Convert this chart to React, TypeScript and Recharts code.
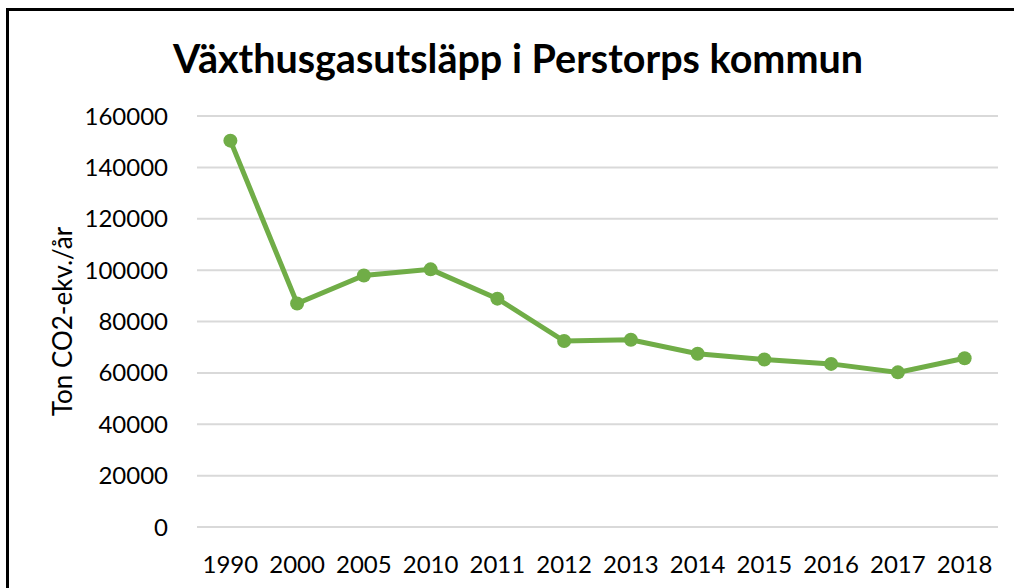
import { CartesianGrid, Line, LineChart, XAxis, YAxis } from "recharts";

const years = ["1990", "2000", "2005", "2010", "2011", "2012", "2013", "2014", "2015", "2016", "2017", "2018"];
const emissions = [150400, 87000, 97900, 100300, 88900, 72400, 72900, 67450, 65200, 63500, 60200, 65700];
const yTicks = [0, 20000, 40000, 60000, 80000, 100000, 120000, 140000, 160000];

const data = years.map((year, i) => ({ year, value: emissions[i] }));

const font = "Lato, Carlito, Calibri, sans-serif";

function YLabel({ viewBox }: any) {
  const cx = 62;
  const cy = viewBox.y + viewBox.height / 2;
  return (
    <text
      x={cx}
      y={cy}
      transform={`rotate(-90 ${cx} ${cy})`}
      textAnchor="middle"
      dominantBaseline="central"
      fontSize={26}
      fontFamily={font}
      fill="#000"
    >
      Ton CO2-ekv./år
    </text>
  );
}

export default function App() {
  return (
    <div style={{ position: "absolute", left: 0, top: 0, width: 1014, height: 588, background: "#fff", overflow: "hidden" }}>
      <div
        style={{
          position: "absolute",
          left: 6,
          top: 8,
          width: 1030,
          height: 620,
          border: "3px solid #000",
          boxSizing: "border-box",
        }}
      />
      <div
        style={{
          position: "absolute",
          left: 0,
          top: 34,
          width: 1036,
          textAlign: "center",
          fontFamily: font,
          fontWeight: 700,
          fontSize: 39.5,
          lineHeight: "48px",
          color: "#000",
        }}
      >
        Växthusgasutsläpp i Perstorps kommun
      </div>
      <div style={{ position: "absolute", left: 0, top: 0 }}>
        <LineChart width={1014} height={588} data={data} margin={{ top: 116, right: 16, bottom: 0, left: 40 }}>
          <CartesianGrid vertical={false} stroke="#d9d9d9" strokeWidth={2} />
          <XAxis
            dataKey="year"
            scale="band"
            axisLine={false}
            tickLine={false}
            tickSize={0}
            tickMargin={29}
            height={61}
            interval={0}
            tick={{ fill: "#000", fontSize: 24, fontFamily: font }}
          />
          <YAxis
            domain={[0, 160000]}
            ticks={yTicks}
            axisLine={false}
            tickLine={false}
            tickSize={0}
            tickMargin={29}
            width={157}
            tick={{ fill: "#000", fontSize: 24, fontFamily: font }}
            label={<YLabel />}
          />
          <Line
            type="linear"
            dataKey="value"
            stroke="#70AD47"
            strokeWidth={5}
            dot={{ r: 7, fill: "#70AD47", stroke: "#70AD47", strokeWidth: 0 }}
            activeDot={false}
            isAnimationActive={false}
          />
        </LineChart>
      </div>
    </div>
  );
}
